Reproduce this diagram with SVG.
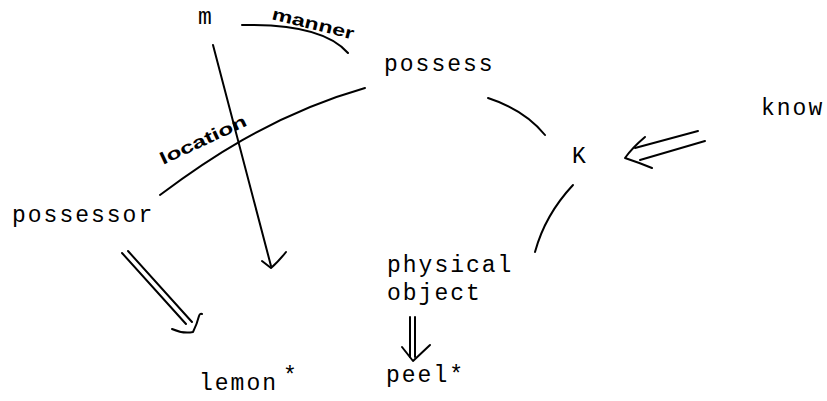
<svg xmlns="http://www.w3.org/2000/svg" width="827" height="401" viewBox="0 0 827 401">
  <style>
    .t { font-family: "Liberation Mono", "DejaVu Sans Mono", monospace; font-size: 23px; letter-spacing: 2px; fill: #000; }
    .h { font-family: "Liberation Sans", "DejaVu Sans", sans-serif; font-size: 17px; font-weight: bold; fill: #000; }
    .c { fill: none; stroke: #000; stroke-width: 2; stroke-linecap: round; stroke-linejoin: round; }
  </style>
  <rect width="827" height="401" fill="#fff"/>
  <g id="connectors">
    <path class="c" d="M242,25 C290,24 330,32 348,53"/>
    <path class="c" d="M160,195 C200,165 270,115 365,88"/>
    <path class="c" d="M213,45 L271,266"/>
    <path class="c" d="M262,261 L271,268 Q278,262 286,252"/>
    <path class="c" d="M122,253 L186,324"/>
    <path class="c" d="M128,251 L192,322"/>
    <path class="c" d="M172,329 Q183,334 193,332 Q197,324 199,316 Q200,313 202,314"/>
    <path class="c" d="M488,98 Q525,110 545,135"/>
    <path class="c" d="M573,185 Q545,215 535,252"/>
    <path class="c" d="M698,131 L635,148"/>
    <path class="c" d="M705,141 L640,160"/>
    <path class="c" d="M645,137 Q632,148 625,158 Q640,163 652,168"/>
    <path class="c" d="M410,317 L410,357"/>
    <path class="c" d="M415,317 L415,357"/>
    <path class="c" d="M402,347 L413,361 L430,345"/>
    <text class="h" x="271" y="19" textLength="84" lengthAdjust="spacingAndGlyphs" transform="rotate(14 271 19)">manner</text>
    <text class="h" x="163" y="165" textLength="94" lengthAdjust="spacingAndGlyphs" transform="rotate(-25 163 165)">location</text>
  </g>
  <g id="node-m"><text class="t" x="198" y="24">m</text></g>
  <g id="node-possess"><text class="t" x="384" y="71">possess</text></g>
  <g id="node-possessor"><text class="t" x="12" y="222">possessor</text></g>
  <g id="node-know"><text class="t" x="761" y="115">know</text></g>
  <g id="node-K"><text class="t" x="572" y="163">K</text></g>
  <g id="node-physical-object">
    <text class="t" x="387" y="272">physical</text>
    <text class="t" x="387" y="300">object</text>
  </g>
  <g id="node-lemon"><text class="t" x="199" y="390">lemon</text><text class="t" x="283" y="383">*</text></g>
  <g id="node-peel"><text class="t" x="386" y="382">peel*</text></g>
</svg>
